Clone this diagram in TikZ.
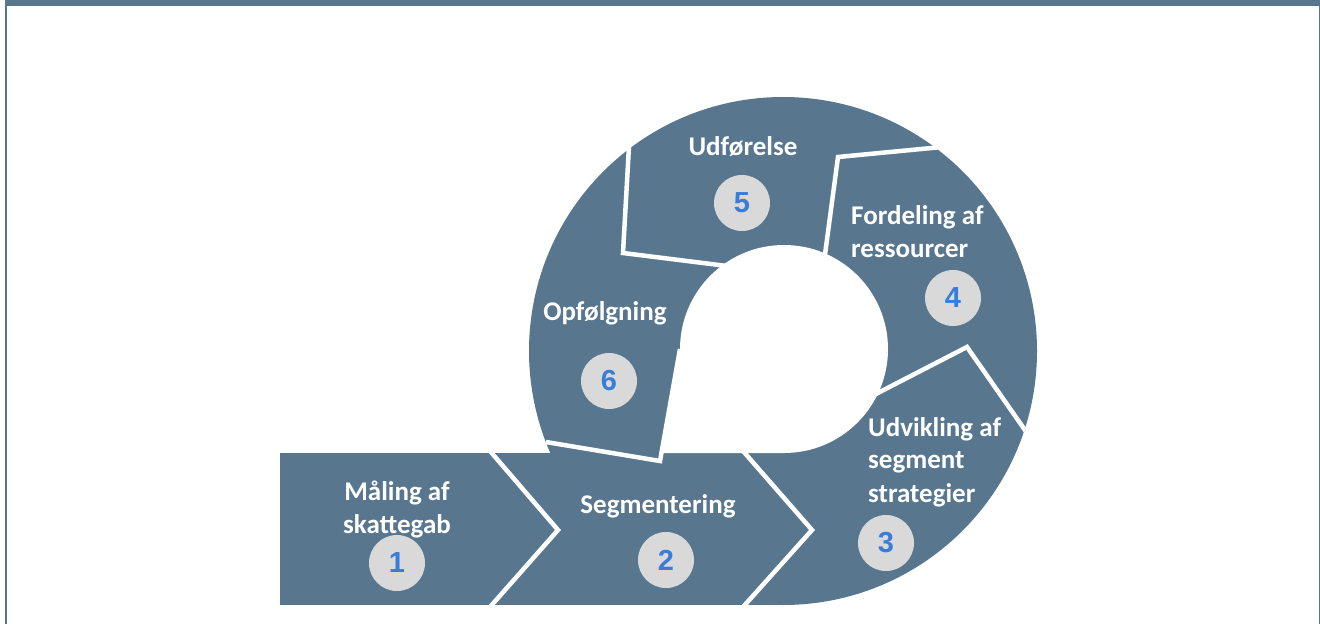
\documentclass[tikz,border=0pt]{standalone}
\usepackage{fontspec}
\setmainfont{Carlito}
\newfontfamily\numfont{Liberation Sans}
\definecolor{slate}{RGB}{88,119,143}
\definecolor{numgray}{RGB}{217,217,217}
\definecolor{numblue}{RGB}{58,125,217}
\begin{document}
\begin{tikzpicture}[x=1pt,y=-1pt,
  ring/.style={fill=slate},
  sep/.style={draw=white,line width=4.5pt,line join=miter},
  lbl/.style={text=white,font=\fontsize{27}{33}\selectfont\bfseries,inner sep=0pt},
  numc/.style={circle,fill=numgray,minimum size=56pt,inner sep=0pt,text=numblue,font=\numfont\fontsize{29}{30}\selectfont\bfseries}]
\useasboundingbox (0,0) rectangle (1320,624);
% frame
\fill[slate] (5,0) rectangle (1320,6);
\fill[slate] (5,0) rectangle (7,624);
\fill[slate] (1318.5,0) rectangle (1320,624);
% main shape
\fill[ring] (280,453) rectangle (783,605);
\fill[ring] (783,351) circle (254pt);
% hole
\fill[white] (784,349) circle (104pt);
\fill[white] (681,349) -- (784,349) -- (784,453) -- (661.4,453) -- cycle;
% separators
\coordinate (a1) at (490,451);
\coordinate (a2) at (558,530);
\coordinate (a3) at (490,607);
\draw[sep] (a1) -- (a2) -- (a3);
\coordinate (b1) at (743,451);
\coordinate (b2) at (812,530);
\coordinate (b3) at (743,607);
\draw[sep] (b1) -- (b2) -- (b3);
\coordinate (c1) at (872,396);
\coordinate (c2) at (967,347);
\coordinate (c3) at (1027,433);
\draw[sep] (c1) -- (c2) -- (c3);
\coordinate (d1) at (824,262);
\coordinate (d2) at (838,157);
\coordinate (d3) at (942,147);
\draw[sep] (d1) -- (d2) -- (d3);
\coordinate (e1) at (629,146);
\coordinate (e2) at (623,253);
\coordinate (e3) at (727,266);
\draw[sep] (e1) -- (e2) -- (e3);
\coordinate (f1) at (546,442);
\coordinate (f2) at (660,461);
\coordinate (f3) at (680,349);
\draw[sep] (f1) -- (f2) -- (f3);
% labels
\node[lbl,anchor=base] (t1a) at (397,500) {Måling af};
\node[lbl,anchor=base] (t1b) at (397,533) {skattegab};
\node[lbl,anchor=base] (t2) at (658,513) {Segmentering};
\node[lbl,anchor=base west] (t3a) at (868,436) {Udvikling af};
\node[lbl,anchor=base west] (t3b) at (868,468) {segment};
\node[lbl,anchor=base west] (t3c) at (868,502) {strategier};
\node[lbl,anchor=base west] (t4a) at (851,224) {Fordeling af};
\node[lbl,anchor=base west] (t4b) at (851,257) {ressourcer};
\node[lbl,anchor=base] (t5) at (743,155) {Udførelse};
\node[lbl,anchor=base] (t6) at (605,320) {Opfølgning};
% numbers
\node[numc] (n1) at (397,563) {1};
\node[numc] (n2) at (666,560) {2};
\node[numc] (n3) at (886,543) {3};
\node[numc] (n4) at (953,298) {4};
\node[numc] (n5) at (742,203) {5};
\node[numc] (n6) at (609,381) {6};
\end{tikzpicture}
\end{document}
